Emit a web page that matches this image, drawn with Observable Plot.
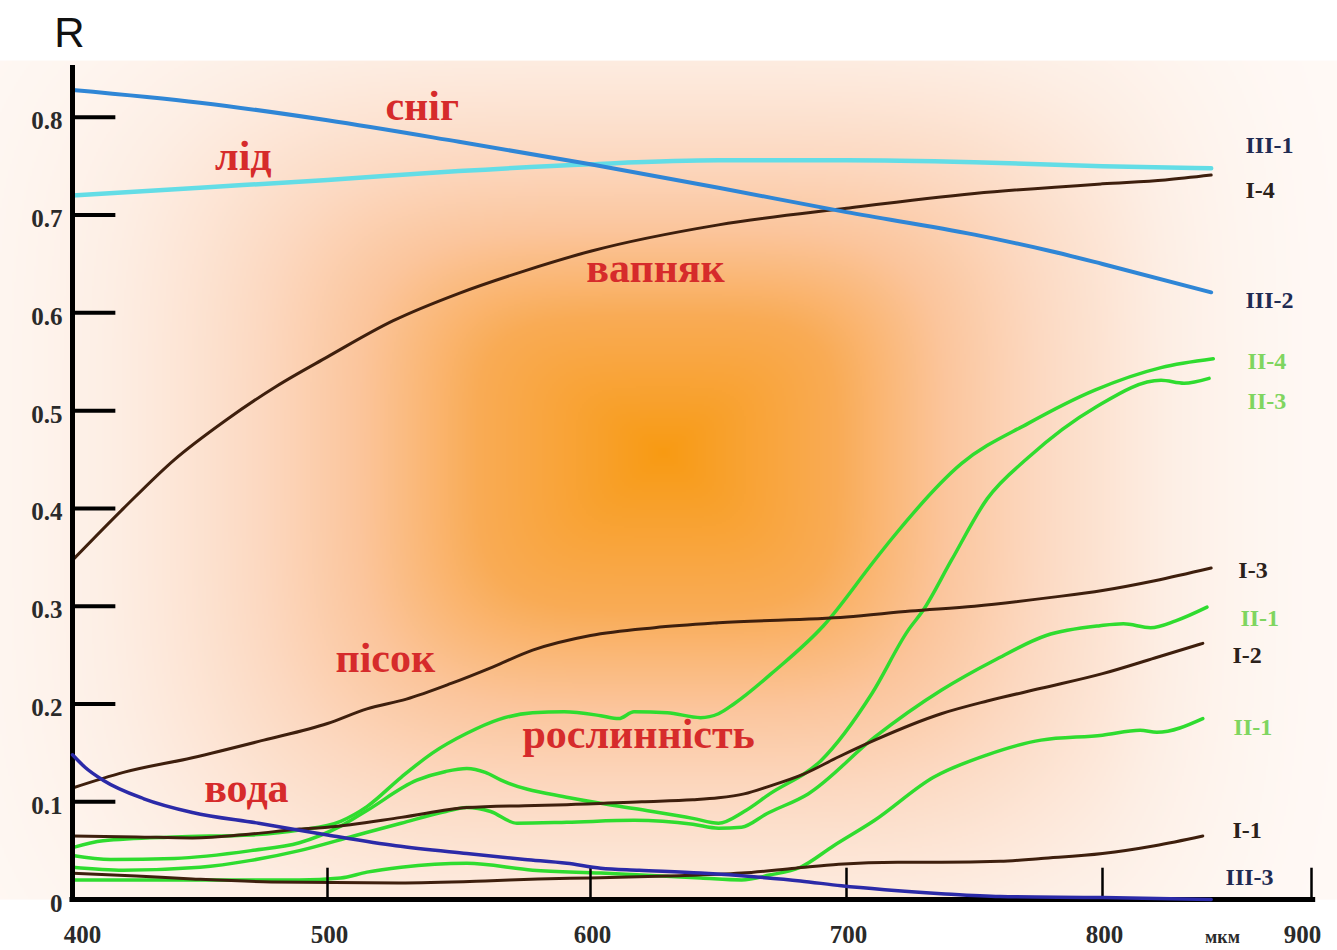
<!DOCTYPE html>
<html>
<head>
<meta charset="utf-8">
<script src="https://cdn.jsdelivr.net/npm/d3@7"></script>
<script src="https://cdn.jsdelivr.net/npm/@observablehq/plot@0.6"></script>
<style>
  html, body { margin: 0; padding: 0; background: #fff; overflow: hidden; }
  #chart svg { display: block; }
</style>
</head>
<body>
<div id="chart"></div>
<script>
// ---------- data (wavelength, reflectance R) ----------
const xTickValues = [400, 500, 600, 700, 800, 900];
const xTickLabels = ["400", "500", "600", "700", "800", "900"];
const yTickValues = [0, 0.1, 0.2, 0.3, 0.4, 0.5, 0.6, 0.7, 0.8];
const yTickLabels = ["0", "0.1", "0.2", "0.3", "0.4", "0.5", "0.6", "0.7", "0.8"];

// I – soils / rocks (brown)
const seriesI1 = [[400,0.027],[425,0.024],[447,0.021],[478,0.018],[527,0.017],[560,0.019],[580,0.021],[600,0.022],[630,0.024],[659,0.027],[680,0.032],[697,0.036],[720,0.038],[737,0.038],[760,0.039],[776,0.042],[800,0.047],[825,0.055],[848,0.065]];
const seriesI2 = [[400,0.065],[425,0.064],[447,0.063],[470,0.067],[489,0.072],[500,0.074],[528,0.084],[553,0.094],[575,0.096],[591,0.097],[620,0.1],[640,0.102],[650,0.104],[660,0.108],[670,0.116],[683,0.128],[697,0.146],[711,0.163],[737,0.19],[755,0.203],[776,0.216],[800,0.231],[825,0.247],[848,0.262]];
const seriesI3 = [[400,0.114],[420,0.13],[447,0.145],[475,0.163],[500,0.18],[515,0.195],[530,0.205],[547,0.221],[563,0.238],[578,0.255],[600,0.27],[625,0.278],[650,0.283],[700,0.289],[725,0.295],[750,0.3],[780,0.309],[800,0.316],[825,0.326],[852,0.339]];
const seriesI4 = [[400,0.347],[420,0.4],[440,0.45],[460,0.49],[480,0.525],[500,0.555],[525,0.592],[550,0.62],[575,0.643],[600,0.663],[650,0.69],[700,0.707],[750,0.722],[800,0.732],[830,0.736],[852,0.741]];

// II – vegetation (green)
const seriesII4 = [[400,0.053],[412,0.06],[440,0.064],[470,0.066],[489,0.071],[505,0.08],[515,0.095],[528,0.125],[540,0.15],[553,0.17],[565,0.184],[578,0.191],[590,0.192],[604,0.188],[611,0.185],[617,0.192],[630,0.191],[643,0.186],[650,0.19],[656,0.2],[672,0.234],[691,0.28],[711,0.347],[718,0.37],[745,0.446],[771,0.487],[797,0.521],[828,0.544],[853,0.553]];
const seriesII3 = [[400,0.045],[415,0.041],[440,0.042],[470,0.05],[489,0.058],[505,0.075],[515,0.091],[534,0.122],[545,0.131],[553,0.134],[560,0.13],[566,0.122],[592,0.104],[617,0.093],[640,0.083],[650,0.078],[660,0.09],[670,0.108],[690,0.142],[710,0.211],[724,0.275],[730,0.296],[741,0.347],[755,0.41],[771,0.452],[797,0.503],[828,0.531],[839,0.528],[851,0.533]];
const seriesII1a = [[400,0.033],[420,0.03],[450,0.033],[470,0.04],[489,0.05],[510,0.065],[528,0.078],[545,0.09],[553,0.094],[562,0.09],[572,0.078],[591,0.079],[617,0.081],[640,0.077],[650,0.073],[659,0.074],[669,0.088],[685,0.108],[711,0.166],[737,0.214],[758,0.245],[778,0.27],[799,0.28],[810,0.282],[823,0.278],[835,0.285],[850,0.299]];
const seriesII1b = [[400,0.02],[450,0.02],[489,0.02],[505,0.022],[515,0.028],[528,0.033],[553,0.037],[578,0.03],[604,0.027],[620,0.025],[643,0.022],[659,0.02],[670,0.025],[682,0.033],[695,0.055],[711,0.081],[734,0.125],[755,0.148],[776,0.163],[800,0.168],[818,0.173],[826,0.171],[848,0.185]];

// III – water, snow, ice
const seriesIII1 = [[400,0.72],[450,0.728],[500,0.736],[550,0.745],[600,0.752],[650,0.756],[700,0.756],[750,0.754],[800,0.75],[852,0.748]];
const seriesIII2 = [[400,0.828],[450,0.815],[500,0.797],[550,0.775],[600,0.752],[650,0.728],[700,0.703],[750,0.68],[780,0.663],[800,0.65],[852,0.621]];
const seriesIII3 = [[400,0.148],[405,0.135],[412,0.122],[428,0.103],[447,0.089],[473,0.078],[500,0.066],[526,0.055],[553,0.047],[575,0.041],[591,0.037],[604,0.032],[619,0.03],[643,0.027],[665,0.023],[682,0.019],[698,0.014],[715,0.01],[737,0.006],[760,0.003],[800,0.002],[852,0.0]];

// annotation texts, anchored in data coordinates
const surfaceNames = [
  {text: "сніг", w: 536, r: 0.811},
  {text: "лід", w: 467, r: 0.760},
  {text: "вапняк", w: 625.4, r: 0.6455},
  {text: "пісок", w: 522, r: 0.2466},
  {text: "рослинність", w: 618.8, r: 0.1688},
  {text: "вода", w: 468.2, r: 0.1136}
];
const endLabelsI = [
  {text: "I-4", w: 868.4, r: 0.725},
  {text: "I-3", w: 865, r: 0.337},
  {text: "I-2", w: 862.2, r: 0.25},
  {text: "I-1", w: 862.2, r: 0.071}
];
const endLabelsII = [
  {text: "II-4", w: 869.4, r: 0.55},
  {text: "II-3", w: 869.4, r: 0.51},
  {text: "II-1", w: 866, r: 0.288},
  {text: "II-1", w: 862.7, r: 0.176}
];
const endLabelsIII = [
  {text: "III-1", w: 868.4, r: 0.771},
  {text: "III-2", w: 868.4, r: 0.613},
  {text: "III-3", w: 858.9, r: 0.0225}
];

// ---------- build tables ----------
function toRows(name, pts) { return pts.map(([w, r]) => ({name, w, r})); }
const brownRows = [
  ...toRows("I-1", seriesI1), ...toRows("I-2", seriesI2),
  ...toRows("I-3", seriesI3), ...toRows("I-4", seriesI4)
];
const greenRows = [
  ...toRows("II-4", seriesII4), ...toRows("II-3", seriesII3),
  ...toRows("II-1a", seriesII1a), ...toRows("II-1b", seriesII1b)
];
const iceRows = toRows("III-1", seriesIII1);
const snowRows = toRows("III-2", seriesIII2);
const waterRows = toRows("III-3", seriesIII3);

// soft, box-shaped orange glow behind the plot (decoration)
function glow(x, y) {
  const px = 72 + (x - 400) * 2.56, py = 899 - y * 977.5;
  const dx = px - 657, dy = py - 452;
  const u = dx / (dx < 0 ? 175 : 165), v = dy / (dy < 0 ? 130 : 150);
  const d = Math.pow(u ** 4 + v ** 4, 0.25);
  return Math.exp(-0.38 * d - 0.03 * d ** 3);
}

const serif = "'Liberation Serif', 'Times New Roman', Times, serif";
const sans = "'Liberation Sans', Arial, sans-serif";
const brown = "#3e1f0d", green = "#2fdc2f";

const chart = Plot.plot({
  width: 1337,
  height: 950,
  marginLeft: 72, marginRight: 26, marginTop: 65, marginBottom: 51,
  x: {type: "linear", domain: [400, 500, 600, 700, 800, 900], range: [72, 327, 590, 846, 1102, 1311], axis: null},
  y: {type: "linear", domain: [0, 0.853], range: [899, 65], axis: null},
  color: {type: "linear", domain: [0, 0.12, 0.3, 0.45, 0.65, 1],
          range: ["#fffaf7", "#fdeee4", "#fcd8c0", "#fbc59c", "#f9ab55", "#f89a12"], clamp: true},
  style: {background: "#fff"},
  marks: [
    Plot.raster({x1: 371, x2: 913, y1: 0, y2: 0.858, pixelSize: 2, fill: glow, imageRendering: "auto"}),

    Plot.line(greenRows, {x: "w", y: "r", z: "name", stroke: green, strokeWidth: 3.5, curve: "monotone-x"}),
    Plot.line(brownRows, {x: "w", y: "r", z: "name", stroke: brown, strokeWidth: 3, curve: "monotone-x"}),
    Plot.line(iceRows, {x: "w", y: "r", stroke: "#63dde6", strokeWidth: 4.5, curve: "monotone-x"}),
    Plot.line(snowRows, {x: "w", y: "r", stroke: "#2f86d6", strokeWidth: 4, curve: "monotone-x"}),

    // axes
    Plot.ruleY([0], {x1: 399, x2: 902, stroke: "#000", strokeWidth: 5}),
    Plot.ruleX([400], {y1: -0.002, y2: 0.853, stroke: "#000", strokeWidth: 5}),
    Plot.ruleY(yTickValues.slice(1), {x1: 400, x2: 417, stroke: "#000", strokeWidth: 4}),
    Plot.ruleX(xTickValues.slice(1), {y1: 0, y2: 0.032, stroke: "#000", strokeWidth: 2.5}),

    Plot.line(waterRows, {x: "w", y: "r", stroke: "#2b2aa8", strokeWidth: 3.5, curve: "monotone-x"}),

    Plot.text(yTickValues, {x: 400, y: d => d, text: (d, i) => yTickLabels[i], textAnchor: "end", dx: -10, dy: 4,
      fontSize: 25, fontWeight: "bold", fontFamily: serif, fill: "#2a2a2a"}),
    Plot.text(xTickValues.slice(0, 1), {x: d => d, y: 0, text: () => xTickLabels[0], dx: 10, dy: 35,
      fontSize: 25, fontWeight: "bold", fontFamily: serif, fill: "#2a2a2a"}),
    Plot.text(xTickValues.slice(1, 5), {x: d => d, y: 0, text: (d, i) => xTickLabels[i + 1], dx: 2, dy: 35,
      fontSize: 25, fontWeight: "bold", fontFamily: serif, fill: "#2a2a2a"}),
    Plot.text(xTickValues.slice(5), {x: d => d, y: 0, text: () => xTickLabels[5], dx: -9, dy: 35,
      fontSize: 25, fontWeight: "bold", fontFamily: serif, fill: "#2a2a2a"}),
    Plot.text(["мкм"], {x: 857.4, y: 0, text: d => d, dy: 38, fontSize: 18, fontWeight: "bold", fontFamily: serif, fill: "#2a2a2a"}),
    Plot.text(["R"], {x: 400, y: 0.886, text: d => d, dx: -3, fontSize: 42, fontFamily: sans, fill: "#111"}),

    Plot.text(surfaceNames, {x: "w", y: "r", text: "text", fontSize: 42, fontWeight: "bold", fontFamily: serif, fill: "#d62b2b"}),

    Plot.text(endLabelsI, {x: "w", y: "r", text: "text", textAnchor: "start", fontSize: 24, fontWeight: "bold", fontFamily: serif, fill: "#2b211a"}),
    Plot.text(endLabelsII, {x: "w", y: "r", text: "text", textAnchor: "start", fontSize: 24, fontWeight: "bold", fontFamily: serif, fill: "#7fd560"}),
    Plot.text(endLabelsIII, {x: "w", y: "r", text: "text", textAnchor: "start", fontSize: 24, fontWeight: "bold", fontFamily: serif, fill: "#1f2b52"})
  ]
});
document.getElementById("chart").appendChild(chart);
</script>
</body>
</html>
